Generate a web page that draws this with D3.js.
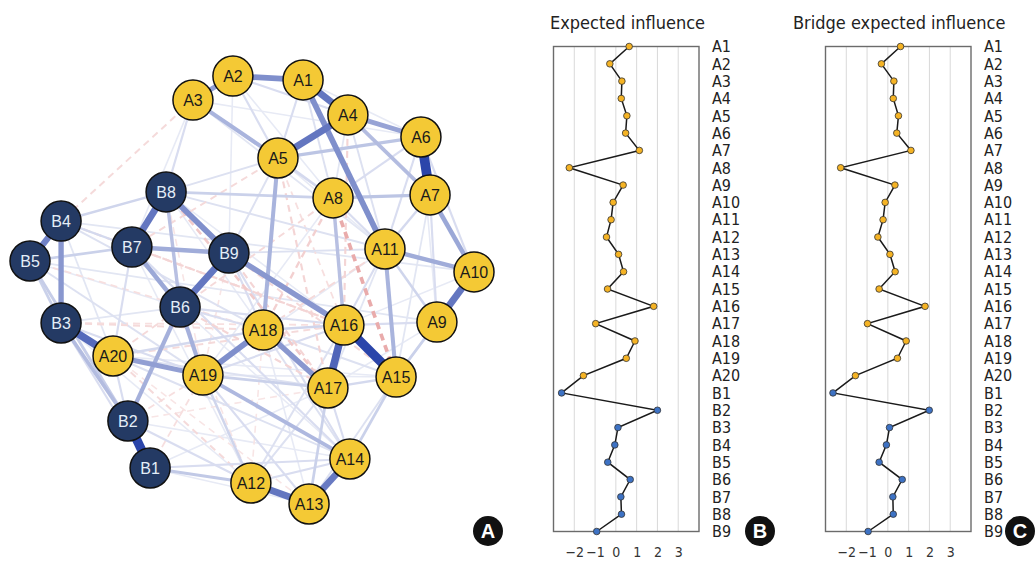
<!DOCTYPE html>
<html>
<head>
<meta charset="utf-8">
<script src="https://cdn.jsdelivr.net/npm/d3@7"></script>
<style>
  body { margin: 0; background: #fff; }
  svg { display: block; }
</style>
</head>
<body>
<svg id="chart" width="1036" height="561"></svg>
<script>
'use strict';

// network nodes and their layout (qgraph-style coordinates, -1..1)
const nodes = ['A1','A2','A3','A4','A5','A6','A7','A8','A9','A10','A11','A12','A13','A14','A15','A16','A17','A18','A19','A20',
  'B1','B2','B3','B4','B5','B6','B7','B8','B9'];
const layoutX = [0.230,-0.086,-0.266,0.432,0.117,0.761,0.802,0.365,0.833,1.0,0.599,-0.005,0.257,0.441,0.649,0.414,0.342,0.050,-0.221,-0.626,
  -0.459,-0.559,-0.860,-0.860,-1.0,-0.324,-0.541,-0.387,-0.104];
const layoutY = [0.977,0.995,0.883,0.814,0.613,0.711,0.441,0.427,-0.152,0.082,0.189,-0.902,-1.0,-0.790,-0.408,-0.166,-0.459,-0.189,-0.399,-0.310,
  -0.832,-0.613,-0.156,0.319,0.133,-0.082,0.198,0.455,0.170];

// partial correlations (edges)
const edges = [
  ['A6','A7',0.45],['B1','B2',0.42],['A15','A16',0.42],['A16','A17',0.34],['B3','A20',0.33],
  ['A1','A4',0.30],['A4','A5',0.30],['A9','A10',0.30],['A12','A13',0.30],['A13','A14',0.29],
  ['B7','B8',0.30],['B6','B9',0.30],['B4','B5',0.27],
  ['A1','A2',0.24],['A1','A11',0.24],['B8','B9',0.24],['B3','B4',0.22],['A18','A19',0.24],['A17','A18',0.22],['B9','A16',0.22],
  ['A2','A3',0.20],['A4','A6',0.19],['A7','A10',0.18],['A10','A11',0.17],['A19','A20',0.20],['B7','B9',0.17],['B6','B7',0.18],
  ['B6','A19',0.16],['B2','B6',0.16],['A3','A5',0.15],['A5','A18',0.15],['A11','A15',0.15],['A8','A16',0.12],['A4','A7',0.13],
  ['A5','A6',0.11],['A7','A8',0.11],['A14','A19',0.14],['B2','B3',0.13],['B2','B5',0.09],['B6','B8',0.12],['A8','B8',0.08],
  ['B1','A12',0.10],['A14','A15',0.08],['A9','A15',0.08],['A13','A17',0.08],['A17','A19',0.08],['B4','B8',0.07],['B5','B7',0.08],
  ['B3','B5',0.08],['A12','A19',0.07],['A9','A11',0.07],['A16','A18',0.07],['A15','A17',0.06],['A14','A17',0.05],
  ['A3','B8',0.05],['A3','A8',0.05],['A2','A5',0.05],['A1','A5',0.05],['A2','A4',0.05],['A6','A8',0.05],['A6','A11',0.05],
  ['A7','A11',0.06],['A7','A9',0.05],['A10','A15',0.05],['A9','A16',0.05],['A11','A16',0.05],['A11','B9',0.04],['A8','A11',0.05],
  ['A5','A8',0.06],['A5','B9',0.04],['B9','A18',0.05],['B7','A20',0.05],['B4','B7',0.06],['B4','A18',0.04],['B5','A19',0.04],
  ['B3','A19',0.05],['B3','B1',0.05],['B1','A14',0.05],['A12','A14',0.05],['A12','A17',0.04],['A13','A19',0.05],['B2','A12',0.05],
  ['B2','A20',0.05],['A18','A15',0.04],['A19','A16',0.05],['A12','A16',0.04],['A20','A18',0.06],['A20','A17',0.04],['B6','A16',0.05],
  ['B6','A18',0.05],['B8','A5',0.04],['B8','A11',0.04],['B4','A10',0.03],['B5','A9',0.03],['A3','A11',0.03],['A1','A8',0.04],
  ['A4','A11',0.04],['A6','A10',0.05],['A13','A15',0.04],['B9','A14',0.05],['B7','A14',0.05],['A18','A14',0.04],['A20','A14',0.04],
  ['A2','A8',0.02],['A2','B9',0.02],['A3','B7',0.02],['A3','A6',0.02],['A1','A6',0.02],['A4','A8',0.03],['A5','A11',0.02],
  ['A6','A9',0.02],['A7','A15',0.03],['A10','A16',0.02],['A9','A17',0.02],['A11','A17',0.03],['A11','A19',0.02],['A8','A19',0.02],
  ['B8','A18',0.02],['B8','A16',0.02],['B4','A20',0.03],['B5','B6',0.02],['B3','B6',0.03],['B3','A12',0.02],['B1','A13',0.02],
  ['B1','A17',0.02],['B2','A14',0.02],['A20','A15',0.02],['A19','A15',0.02],['B6','A14',0.02],['B7','A12',0.02],['A18','A13',0.02],
  ['A3','B4',-0.04],['A8','A15',-0.13],['B8','A17',-0.07],['B4','A16',-0.05],['B7','A16',-0.05],['A8','A18',-0.06],['A8','A20',-0.04],
  ['B9','A15',-0.04],['B3','A18',-0.04],['A20','A12',-0.04],['B2','A19',-0.03],['A11','A18',-0.04],['B6','A17',-0.05],['A4','A16',-0.05],
  ['A5','A17',-0.05],['B5','A18',-0.03],['A5','B7',-0.04],['B9','A17',-0.05],['A20','A16',-0.04],['B1','A19',-0.03],['B3','A16',-0.03],
  ['B8','A19',-0.02],['A5','A16',-0.03],['B9','A19',-0.02],['B6','A12',-0.02],['A18','A12',-0.02],['B2','A17',-0.02],['A20','A13',-0.02]
];

// centrality (z-scores)
const expectedInfluence = [0.64,-0.29,0.29,0.26,0.53,0.47,1.13,-2.24,0.35,-0.13,-0.23,-0.45,0.13,0.37,-0.40,1.82,-0.97,0.92,0.50,-1.56,
  -2.61,2.00,0.10,-0.05,-0.39,0.69,0.24,0.27,-0.92];
const bridgeExpectedInfluence = [0.61,-0.31,0.29,0.26,0.51,0.43,1.11,-2.27,0.34,-0.13,-0.23,-0.48,0.10,0.35,-0.42,1.79,-0.98,0.88,0.46,-1.56,
  -2.64,1.99,0.08,-0.07,-0.42,0.69,0.24,0.26,-0.95];
const xTicks = [-2,-1,0,1,2,3];

const svg = d3.select('#chart');
const yellow = '#f4c935', navy = '#243a64';
const group = (n) => n[0];

// ---------- panel A: network ----------
const nx = d3.scaleLinear().domain([-1, 1]).range([30, 474]);
const ny = d3.scaleLinear().domain([-1, 1]).range([504, 75]);
const pos = {};
nodes.forEach((n, i) => { pos[n] = [nx(layoutX[i]), ny(layoutY[i])]; });

const maxW = 0.45;
const posCol = d3.interpolateRgb('#ffffff', '#2b45aa');
const negCol = d3.interpolateRgb('#ffffff', '#cc3a3a');
const sorted = edges.slice().sort((a, b) => Math.abs(a[2]) - Math.abs(b[2]));

const net = svg.append('g');
net.selectAll('line')
  .data(sorted)
  .join('line')
    .attr('x1', d => pos[d[0]][0])
    .attr('y1', d => pos[d[0]][1])
    .attr('x2', d => pos[d[1]][0])
    .attr('y2', d => pos[d[1]][1])
    .attr('stroke', d => {
      const t = Math.min(1, 0.07 + Math.abs(d[2]) / maxW);
      return d[2] > 0 ? posCol(t) : negCol(Math.min(1, 0.08 + Math.abs(d[2]) / maxW * 1.2));
    })
    .attr('stroke-width', d => 1.2 + Math.abs(d[2]) / maxW * 8.5)
    .attr('stroke-dasharray', d => d[2] < 0 ? '7,5' : null);

const nodeG = net.selectAll('g.node')
  .data(nodes)
  .join('g')
    .attr('class', 'node')
    .attr('transform', d => `translate(${pos[d][0]},${pos[d][1]})`);
nodeG.append('circle')
  .attr('r', 20)
  .attr('fill', d => group(d) === 'A' ? yellow : navy)
  .attr('stroke', '#111')
  .attr('stroke-width', 1.5);
nodeG.append('text')
  .attr('text-anchor', 'middle')
  .attr('dy', '0.36em')
  .attr('font-family', 'Liberation Sans, Arial, sans-serif')
  .attr('font-size', 16)
  .attr('fill', d => group(d) === 'A' ? '#1a1a1a' : '#e4eef8')
  .text(d => d);

// ---------- panels B and C: centrality plots ----------
const y = d3.scalePoint().domain(nodes).range([46.5, 531.5]);
const labelFont = 'DejaVu Sans Condensed, DejaVu Sans, sans-serif';

function centralityPlot(x0, title, values, titleX) {
  const x = d3.scaleLinear().domain([-3, 4]).range([x0, x0 + 145.5]);
  const g = svg.append('g');
  g.selectAll('line.grid')
    .data(xTicks)
    .join('line')
      .attr('class', 'grid')
      .attr('x1', d => x(d)).attr('x2', d => x(d))
      .attr('y1', y('A1')).attr('y2', y('B9'))
      .attr('stroke', '#d9d9d9').attr('stroke-width', 1);
  g.append('rect')
    .attr('x', x(-3)).attr('y', y('A1'))
    .attr('width', x(4) - x(-3)).attr('height', y('B9') - y('A1'))
    .attr('fill', 'none').attr('stroke', '#6b6b6b').attr('stroke-width', 1.4);

  const axis = g.append('g')
    .attr('transform', `translate(0,${y('B9')})`)
    .call(d3.axisBottom(x).tickValues(xTicks).tickSize(0).tickPadding(16)
      .tickFormat(d => d < 0 ? '\u2212' + Math.abs(d) : d));
  axis.select('.domain').remove();
  axis.selectAll('text')
    .attr('font-family', labelFont).attr('font-size', 14).attr('fill', '#333');

  const pts = nodes.map((n, i) => [n, values[i]]);
  g.append('path')
    .datum(pts)
    .attr('fill', 'none').attr('stroke', '#1a1a1a').attr('stroke-width', 1.5)
    .attr('d', d3.line().x(d => x(d[1])).y(d => y(d[0])));
  g.selectAll('circle')
    .data(pts)
    .join('circle')
      .attr('cx', d => x(d[1])).attr('cy', d => y(d[0]))
      .attr('r', 3.3)
      .attr('fill', d => group(d[0]) === 'A' ? '#f5b324' : '#3d72c4')
      .attr('stroke', '#333').attr('stroke-width', 0.8);

  g.selectAll('text.row')
    .data(nodes)
    .join('text')
      .attr('class', 'row')
      .attr('x', x(4) + 13).attr('y', d => y(d))
      .attr('dy', '0.36em')
      .attr('font-family', labelFont).attr('font-size', 16).attr('fill', '#222')
      .text(d => d);

  g.append('text')
    .attr('x', titleX).attr('y', 29)
    .attr('font-family', labelFont).attr('font-size', 18).attr('fill', '#222')
    .text(title);
}
centralityPlot(553.5, 'Expected influence', expectedInfluence, 550);
centralityPlot(825.5, 'Bridge expected influence', bridgeExpectedInfluence, 793);

// ---------- panel badges ----------
const badges = [['A', 488, 531], ['B', 760, 531], ['C', 1020, 531]];
const bg = svg.selectAll('g.badge')
  .data(badges)
  .join('g')
    .attr('class', 'badge')
    .attr('transform', d => `translate(${d[1]},${d[2]})`);
bg.append('circle').attr('r', 15).attr('fill', '#111');
bg.append('text')
  .attr('text-anchor', 'middle').attr('dy', '0.36em')
  .attr('font-family', 'Liberation Sans, Arial, sans-serif')
  .attr('font-weight', 'bold').attr('font-size', 20).attr('fill', '#fff')
  .text(d => d[0]);
</script>
</body>
</html>
